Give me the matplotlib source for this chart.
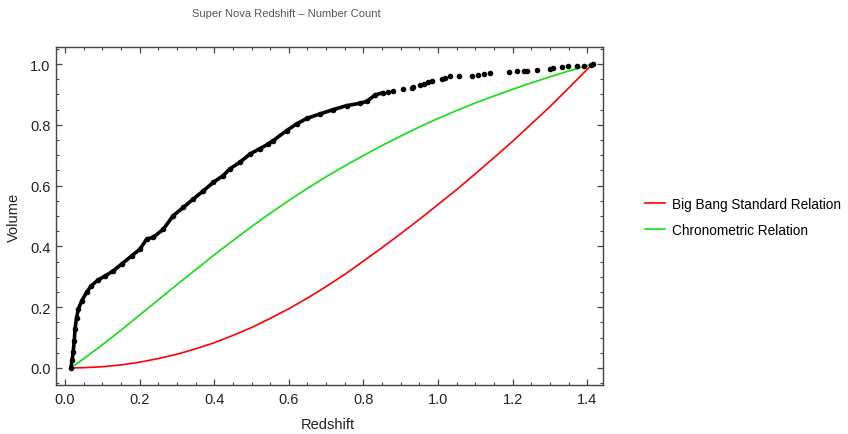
import numpy as np
import matplotlib
matplotlib.use("Agg")
import matplotlib.pyplot as plt
from matplotlib.ticker import MultipleLocator
from matplotlib.lines import Line2D

plt.rcParams['font.family'] = ['Liberation Sans', 'DejaVu Sans']

# Supernova number count (cumulative, normalised) - dense part
sn_dense_z = [0.016, 0.019, 0.022, 0.025, 0.027, 0.031, 0.036, 0.045, 0.058, 0.071,
              0.089, 0.107, 0.130, 0.152, 0.179, 0.201, 0.219, 0.237, 0.264, 0.290,
              0.317, 0.344, 0.371, 0.398, 0.424, 0.442, 0.469, 0.496, 0.523, 0.545,
              0.558, 0.594, 0.621, 0.648, 0.684, 0.719, 0.755, 0.791, 0.809, 0.831,
              0.853]
sn_dense_v = [0.000, 0.025, 0.052, 0.090, 0.128, 0.165, 0.194, 0.221, 0.249, 0.271,
              0.290, 0.302, 0.320, 0.342, 0.369, 0.391, 0.424, 0.430, 0.457, 0.501,
              0.528, 0.556, 0.583, 0.611, 0.633, 0.655, 0.677, 0.704, 0.722, 0.737,
              0.748, 0.781, 0.803, 0.821, 0.836, 0.850, 0.863, 0.871, 0.877, 0.898,
              0.906]

# sparse high-redshift supernovae (individual dots)
sn_sparse_z = [0.867, 0.880, 0.907, 0.929, 0.934, 0.952, 0.961, 0.974, 0.983, 1.010,
               1.019, 1.032, 1.057, 1.090, 1.108, 1.122, 1.139, 1.189, 1.211, 1.229,
               1.238, 1.265, 1.300, 1.309, 1.332, 1.349, 1.372, 1.390, 1.409, 1.414]
sn_sparse_v = [0.909, 0.911, 0.918, 0.922, 0.924, 0.931, 0.933, 0.940, 0.945, 0.951,
               0.955, 0.959, 0.962, 0.962, 0.965, 0.967, 0.970, 0.973, 0.976, 0.978,
               0.978, 0.981, 0.984, 0.986, 0.990, 0.992, 0.994, 0.994, 0.997, 1.000]

# redshift grid for the two model curves
model_z = [0.015, 0.05, 0.10, 0.15, 0.20, 0.25, 0.30, 0.35, 0.40, 0.45,
           0.50, 0.55, 0.60, 0.65, 0.70, 0.75, 0.80, 0.85, 0.90, 0.95,
           1.00, 1.05, 1.10, 1.15, 1.20, 1.25, 1.30, 1.35, 1.414]

# Big Bang standard relation
bb_v = [0.000, 0.001, 0.004, 0.010, 0.019, 0.031, 0.045, 0.063, 0.083, 0.107,
        0.133, 0.163, 0.195, 0.230, 0.268, 0.308, 0.352, 0.396, 0.442, 0.489,
        0.538, 0.587, 0.639, 0.692, 0.746, 0.803, 0.860, 0.921, 1.000]

# Chronometric relation
chrono_v = [0.000, 0.030, 0.076, 0.124, 0.174, 0.224, 0.274, 0.323, 0.372, 0.419,
            0.465, 0.509, 0.551, 0.591, 0.629, 0.665, 0.699, 0.732, 0.763, 0.793,
            0.821, 0.847, 0.872, 0.895, 0.917, 0.938, 0.958, 0.977, 1.000]

fig = plt.figure(figsize=(8.48, 4.35), dpi=100)
ax = fig.add_axes([56/848, 1 - 386/435, (603 - 56)/848, (386 - 48)/435])

red = '#ff0000'
green = '#10e010'

ax.plot(model_z, bb_v, color=red, lw=1.2)
ax.plot(model_z, chrono_v, color=green, lw=1.2)
ax.plot(sn_dense_z, sn_dense_v, color='black', lw=2.6, marker='o', ms=3,
        solid_capstyle='round')
ax.plot(sn_sparse_z, sn_sparse_v, 'o', color='black', ms=3)

ax.set_xlim(-0.024, 1.442)
ax.set_ylim(-0.056, 1.056)

ax.xaxis.set_major_locator(MultipleLocator(0.2))
ax.xaxis.set_minor_locator(MultipleLocator(0.05))
ax.yaxis.set_major_locator(MultipleLocator(0.2))
ax.yaxis.set_minor_locator(MultipleLocator(0.05))
ax.xaxis.set_major_formatter(plt.FuncFormatter(lambda v, p: f'{v:.1f}'))
ax.yaxis.set_major_formatter(plt.FuncFormatter(lambda v, p: f'{v:.1f}'))

ax.tick_params(which='both', direction='in', top=True, right=True,
               color='#444444', labelsize=10.5, labelcolor='#222222')
ax.tick_params(which='major', length=4.5, width=0.9)
ax.tick_params(which='minor', length=2.5, width=0.8)
ax.tick_params(axis='x', pad=5)
ax.tick_params(axis='y', pad=4)
for s in ax.spines.values():
    s.set_color('#444444')
    s.set_linewidth(1.0)

fig.text(286/848, 1 - 14/435, 'Super Nova Redshift \u2013 Number Count',
         ha='center', va='center', fontsize=8, color='#555555')
fig.text(328/848, 1 - 425/435, 'Redshift', ha='center', va='center',
         fontsize=10.5, color='#222222')
fig.text(14/848, 1 - 217/435, 'Volume', ha='center', va='center',
         rotation=90, fontsize=10.5, color='#222222')

handles = [Line2D([], [], color=red, lw=1.2), Line2D([], [], color=green, lw=1.2)]
fig.legend(handles, ['Big Bang Standard Relation', 'Chronometric Relation'],
           loc='center left', bbox_to_anchor=(645/848, 1 - 218/435),
           frameon=False, fontsize=9.8, borderpad=0, borderaxespad=0,
           handlelength=1.47, handletextpad=0.51, labelspacing=0.9)

fig.savefig('out.png', dpi=100, facecolor='white')
